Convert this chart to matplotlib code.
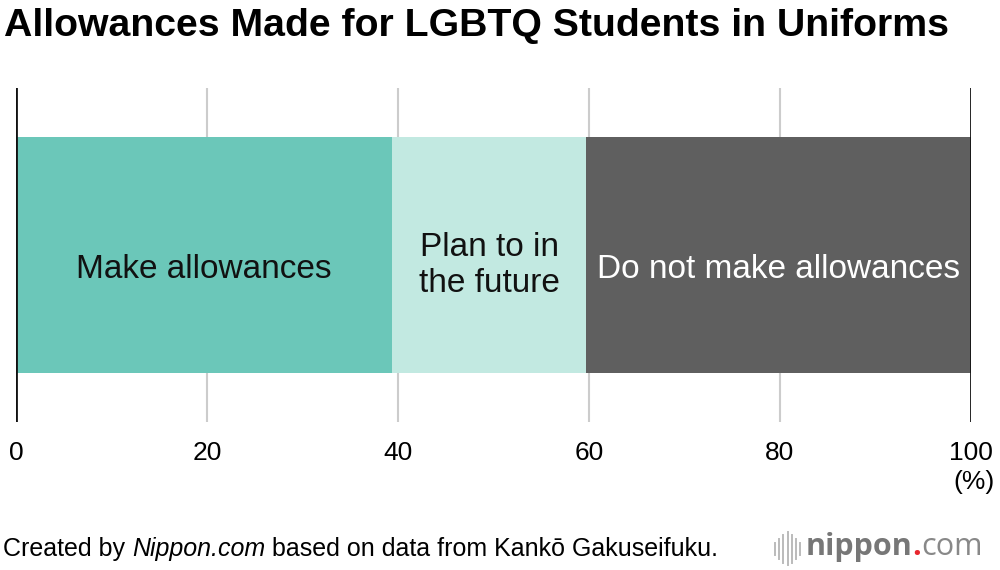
import matplotlib.pyplot as plt

categories = ["Make allowances", "Plan to in\nthe future", "Do not make allowances"]
shares = [39.4, 20.3, 40.3]
colors = ["#6bc7b9", "#c2e9e1", "#5f5f5f"]
label_colors = ["#111111", "#111111", "#ffffff"]
ticks = [0, 20, 40, 60, 80, 100]

plt.rcParams["font.family"] = ["Liberation Sans", "DejaVu Sans"]

fig = plt.figure(figsize=(10, 5.7), dpi=100)
ax = fig.add_axes([0.016, 1 - 422 / 570, 0.955, 334 / 570])

left = 0
for cat, val, col, tc in zip(categories, shares, colors, label_colors):
    ax.barh(0.5, val, left=left, height=0.707, color=col, zorder=2)
    ty = 0.468 if "\n" in cat else 0.456
    ax.text(left + val / 2, ty, cat, ha="center", va="center",
            fontsize=24, color=tc, zorder=3, linespacing=1.2)
    left += val

for t in ticks:
    if t in (0, 100):
        ax.axvline(t, color="#111111", lw=2, zorder=4)
    else:
        ax.axvline(t, color="#cccccc", lw=1.5, zorder=1)

ax.set_xlim(0, 100)
ax.set_ylim(0, 1)
ax.set_xticks(ticks)
ax.set_xticklabels([str(t) for t in ticks], fontsize=19)
ax.tick_params(axis="x", length=0, pad=14)
ax.set_yticks([])
for s in ax.spines.values():
    s.set_visible(False)

fig.text(0.004, 0.955, "Allowances Made for LGBTQ Students in Uniforms",
         fontsize=28.3, fontweight="bold", ha="left", va="center")
fig.text(0.974, 1 - 482 / 570, "(%)", fontsize=19, ha="center", va="center")

# footer, pieced together so the site name can be italic
fig.canvas.draw()
r = fig.canvas.get_renderer()
fy = 1 - 549 / 570
t1 = fig.text(0.003, fy, "Created by ", fontsize=18, ha="left", va="center")
bb = t1.get_window_extent(r)
t2 = fig.text(bb.x1 / 1000, fy, "Nippon.com", fontsize=18, style="italic",
              ha="left", va="center")
bb = t2.get_window_extent(r)
fig.text(bb.x1 / 1000, fy, " based on data from Kankō Gakuseifuku.",
         fontsize=18, ha="left", va="center")

# logo
for i, h in enumerate([0.022, 0.036, 0.05, 0.058, 0.05, 0.036, 0.022]):
    xx = 0.775 + i * 0.0042
    fig.add_artist(plt.Line2D([xx, xx], [0.037 - h / 2, 0.037 + h / 2],
                              color="#bbbbbb", lw=1.4))
t3 = fig.text(0.806, 0.04, "nippon", fontsize=22, fontweight="bold",
              color="#777777", ha="left", va="center", family="Open Sans")
bb = t3.get_window_extent(r)
t4 = fig.text(bb.x1 / 1000, 0.04, ".", fontsize=22, fontweight="bold",
              color="#e8262d", ha="left", va="center", family="Open Sans")
bb = t4.get_window_extent(r)
fig.text(bb.x1 / 1000, 0.04, "com", fontsize=22, color="#888888",
         ha="left", va="center", family="Open Sans")

fig.savefig("out.png", dpi=100)
